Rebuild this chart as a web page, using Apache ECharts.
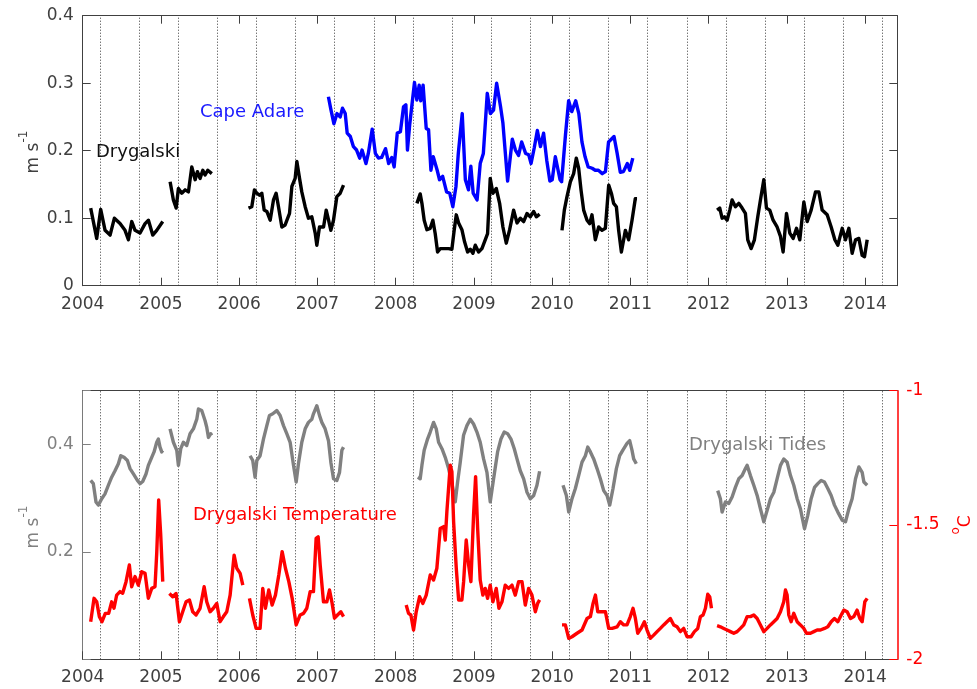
<!DOCTYPE html>
<html>
<head>
<meta charset="utf-8">
<script src="https://cdn.jsdelivr.net/npm/echarts@6/dist/echarts.min.js"></script>
<style>
  html, body { margin: 0; padding: 0; background: #fff; }
  #chart { width: 977px; height: 689px; }
</style>
</head>
<body>
<div id="chart"></div>
<script>
// Current speed at Drygalski (m/s), one array per deployment: [decimal year, value]
const drygalskiSpeed = [
  [[2004.102,0.115],[2004.179,0.070],[2004.230,0.113],[2004.286,0.082],[2004.350,0.075],[2004.405,0.100],[2004.477,0.092],[2004.541,0.082],[2004.584,0.068],[2004.627,0.095],[2004.669,0.082],[2004.733,0.078],[2004.797,0.092],[2004.840,0.097],[2004.895,0.075],[2004.946,0.082],[2005.023,0.095]],
  [[2005.117,0.154],[2005.159,0.127],[2005.194,0.115],[2005.223,0.144],[2005.266,0.137],[2005.309,0.142],[2005.351,0.139],[2005.394,0.176],[2005.437,0.157],[2005.466,0.169],[2005.500,0.159],[2005.535,0.171],[2005.564,0.164],[2005.598,0.171],[2005.650,0.166]],
  [[2006.119,0.115],[2006.161,0.117],[2006.195,0.142],[2006.225,0.137],[2006.259,0.134],[2006.289,0.137],[2006.319,0.112],[2006.353,0.110],[2006.396,0.097],[2006.438,0.127],[2006.472,0.137],[2006.502,0.117],[2006.545,0.087],[2006.587,0.090],[2006.643,0.107],[2006.673,0.147],[2006.715,0.159],[2006.737,0.184],[2006.771,0.159],[2006.800,0.139],[2006.843,0.117],[2006.885,0.100],[2006.928,0.102],[2006.971,0.078],[2006.992,0.060],[2007.026,0.087],[2007.078,0.087],[2007.112,0.112],[2007.142,0.097],[2007.171,0.082],[2007.205,0.097],[2007.248,0.132],[2007.291,0.137],[2007.333,0.149]],
  [[2008.271,0.122],[2008.313,0.136],[2008.335,0.122],[2008.364,0.097],[2008.399,0.083],[2008.441,0.085],[2008.475,0.097],[2008.505,0.077],[2008.535,0.050],[2008.569,0.055],[2008.612,0.055],[2008.676,0.055],[2008.718,0.054],[2008.748,0.083],[2008.774,0.105],[2008.804,0.093],[2008.846,0.083],[2008.880,0.065],[2008.919,0.050],[2008.953,0.054],[2008.987,0.048],[2009.017,0.060],[2009.059,0.050],[2009.102,0.055],[2009.144,0.068],[2009.174,0.077],[2009.208,0.159],[2009.242,0.137],[2009.285,0.144],[2009.328,0.122],[2009.370,0.087],[2009.413,0.063],[2009.456,0.083],[2009.507,0.112],[2009.550,0.093],[2009.592,0.100],[2009.635,0.095],[2009.678,0.107],[2009.720,0.102],[2009.763,0.110],[2009.797,0.102],[2009.839,0.106]],
  [[2010.125,0.082],[2010.155,0.112],[2010.189,0.132],[2010.232,0.154],[2010.274,0.166],[2010.308,0.189],[2010.338,0.174],[2010.368,0.142],[2010.402,0.112],[2010.445,0.097],[2010.479,0.092],[2010.508,0.105],[2010.551,0.068],[2010.594,0.087],[2010.636,0.082],[2010.679,0.085],[2010.722,0.149],[2010.756,0.137],[2010.785,0.122],[2010.820,0.117],[2010.849,0.082],[2010.884,0.050],[2010.935,0.082],[2010.977,0.068],[2011.020,0.097],[2011.062,0.129],[2011.084,0.129]],
  [[2012.107,0.112],[2012.141,0.115],[2012.171,0.100],[2012.201,0.102],[2012.235,0.097],[2012.269,0.112],[2012.299,0.127],[2012.341,0.117],[2012.384,0.122],[2012.427,0.115],[2012.469,0.107],[2012.499,0.068],[2012.542,0.055],[2012.584,0.068],[2012.627,0.102],[2012.661,0.127],[2012.704,0.157],[2012.738,0.115],[2012.780,0.112],[2012.823,0.097],[2012.874,0.087],[2012.917,0.073],[2012.951,0.050],[2012.994,0.107],[2013.036,0.078],[2013.079,0.070],[2013.122,0.085],[2013.164,0.068],[2013.216,0.124],[2013.258,0.095],[2013.309,0.112],[2013.365,0.139],[2013.407,0.139],[2013.450,0.112],[2013.514,0.105],[2013.565,0.087],[2013.612,0.068],[2013.650,0.060],[2013.706,0.085],[2013.748,0.068],[2013.791,0.085],[2013.833,0.048],[2013.876,0.068],[2013.919,0.070],[2013.961,0.045],[2013.991,0.043],[2014.025,0.068]]
];

// Current speed at Cape Adare (m/s)
const capeAdareSpeed = [
  [[2007.140,0.280],[2007.170,0.262],[2007.210,0.240],[2007.250,0.255],[2007.290,0.250],[2007.320,0.263],[2007.355,0.255],[2007.380,0.226],[2007.420,0.221],[2007.460,0.206],[2007.500,0.201],[2007.540,0.189],[2007.570,0.201],[2007.620,0.181],[2007.650,0.196],[2007.700,0.232],[2007.740,0.196],[2007.780,0.189],[2007.820,0.190],[2007.870,0.203],[2007.910,0.181],[2007.950,0.190],[2007.980,0.176],[2008.020,0.226],[2008.060,0.228],[2008.100,0.265],[2008.130,0.268],[2008.150,0.201],[2008.180,0.240],[2008.240,0.301],[2008.270,0.275],[2008.300,0.297],[2008.320,0.274],[2008.350,0.297],[2008.390,0.233],[2008.420,0.231],[2008.450,0.171],[2008.480,0.191],[2008.530,0.171],[2008.560,0.157],[2008.600,0.162],[2008.650,0.139],[2008.690,0.137],[2008.730,0.117],[2008.770,0.147],[2008.800,0.196],[2008.850,0.255],[2008.890,0.157],[2008.930,0.142],[2008.960,0.177],[2008.990,0.137],[2009.040,0.127],[2009.080,0.181],[2009.120,0.196],[2009.170,0.285],[2009.210,0.255],[2009.250,0.260],[2009.290,0.300],[2009.340,0.265],[2009.370,0.241],[2009.430,0.155],[2009.490,0.217],[2009.530,0.201],[2009.570,0.193],[2009.610,0.213],[2009.660,0.196],[2009.700,0.194],[2009.730,0.181],[2009.770,0.204],[2009.810,0.230],[2009.850,0.206],[2009.890,0.226],[2009.930,0.186],[2009.970,0.155],[2010.000,0.157],[2010.040,0.191],[2010.100,0.157],[2010.120,0.154],[2010.170,0.224],[2010.210,0.274],[2010.250,0.258],[2010.300,0.274],[2010.340,0.255],[2010.380,0.213],[2010.420,0.191],[2010.460,0.176],[2010.510,0.174],[2010.550,0.171],[2010.590,0.171],[2010.640,0.166],[2010.680,0.169],[2010.720,0.213],[2010.790,0.221],[2010.830,0.196],[2010.870,0.168],[2010.910,0.169],[2010.960,0.181],[2010.990,0.171],[2011.030,0.189]]
];

// Tidal current speed at Drygalski (m/s)
const drygalskiTides = [
  [[2004.102,0.333],[2004.136,0.327],[2004.170,0.293],[2004.200,0.287],[2004.243,0.299],[2004.285,0.308],[2004.328,0.324],[2004.370,0.339],[2004.413,0.351],[2004.456,0.364],[2004.486,0.379],[2004.528,0.376],[2004.571,0.370],[2004.605,0.355],[2004.648,0.345],[2004.699,0.333],[2004.733,0.327],[2004.767,0.331],[2004.809,0.345],[2004.839,0.361],[2004.882,0.376],[2004.912,0.386],[2004.946,0.404],[2004.967,0.410],[2004.988,0.395],[2005.010,0.386],[2005.023,0.389]],
  [[2005.116,0.429],[2005.159,0.404],[2005.202,0.389],[2005.223,0.361],[2005.253,0.392],[2005.287,0.404],[2005.329,0.398],[2005.372,0.420],[2005.415,0.429],[2005.458,0.447],[2005.479,0.466],[2005.521,0.463],[2005.564,0.444],[2005.585,0.432],[2005.607,0.413],[2005.636,0.420],[2005.649,0.417]],
  [[2006.139,0.379],[2006.173,0.370],[2006.203,0.339],[2006.225,0.370],[2006.267,0.379],[2006.310,0.410],[2006.353,0.435],[2006.387,0.454],[2006.429,0.457],[2006.480,0.463],[2006.523,0.454],[2006.566,0.435],[2006.608,0.420],[2006.651,0.404],[2006.694,0.361],[2006.728,0.330],[2006.757,0.364],[2006.800,0.404],[2006.843,0.429],[2006.885,0.441],[2006.928,0.447],[2006.949,0.457],[2006.992,0.472],[2007.026,0.454],[2007.056,0.441],[2007.098,0.429],[2007.141,0.407],[2007.171,0.367],[2007.205,0.336],[2007.248,0.333],[2007.282,0.348],[2007.312,0.389],[2007.333,0.395]],
  [[2008.283,0.339],[2008.313,0.336],[2008.335,0.361],[2008.364,0.389],[2008.407,0.410],[2008.441,0.423],[2008.484,0.441],[2008.518,0.429],[2008.548,0.404],[2008.591,0.392],[2008.633,0.376],[2008.676,0.355],[2008.718,0.327],[2008.761,0.293],[2008.791,0.330],[2008.825,0.367],[2008.867,0.417],[2008.910,0.435],[2008.953,0.447],[2008.995,0.438],[2009.038,0.423],[2009.080,0.404],[2009.123,0.373],[2009.166,0.348],[2009.208,0.293],[2009.251,0.336],[2009.302,0.386],[2009.345,0.410],[2009.387,0.423],[2009.430,0.420],[2009.473,0.410],[2009.515,0.392],[2009.550,0.373],[2009.592,0.351],[2009.635,0.336],[2009.678,0.311],[2009.720,0.299],[2009.763,0.305],[2009.805,0.324],[2009.839,0.350]],
  [[2010.138,0.324],[2010.181,0.305],[2010.211,0.274],[2010.253,0.299],[2010.296,0.318],[2010.338,0.342],[2010.381,0.367],[2010.424,0.379],[2010.454,0.395],[2010.488,0.386],[2010.530,0.373],[2010.573,0.355],[2010.615,0.336],[2010.658,0.314],[2010.701,0.305],[2010.735,0.287],[2010.777,0.318],[2010.820,0.355],[2010.862,0.379],[2010.905,0.390],[2010.956,0.402],[2010.990,0.407],[2011.020,0.389],[2011.041,0.373],[2011.075,0.364]],
  [[2012.115,0.314],[2012.149,0.299],[2012.171,0.274],[2012.213,0.293],[2012.256,0.290],[2012.299,0.302],[2012.341,0.320],[2012.384,0.336],[2012.427,0.342],[2012.469,0.355],[2012.491,0.361],[2012.533,0.342],[2012.576,0.324],[2012.619,0.305],[2012.661,0.280],[2012.704,0.256],[2012.746,0.277],[2012.789,0.299],[2012.832,0.311],[2012.874,0.336],[2012.917,0.361],[2012.959,0.373],[2013.002,0.367],[2013.045,0.342],[2013.087,0.324],[2013.130,0.299],[2013.172,0.280],[2013.224,0.243],[2013.266,0.268],[2013.309,0.299],[2013.352,0.320],[2013.394,0.327],[2013.437,0.333],[2013.479,0.330],[2013.522,0.318],[2013.565,0.305],[2013.607,0.287],[2013.650,0.274],[2013.706,0.259],[2013.748,0.256],[2013.791,0.280],[2013.833,0.299],[2013.876,0.336],[2013.919,0.358],[2013.961,0.348],[2013.983,0.330],[2014.025,0.324]]
];

// Water temperature at Drygalski (deg C)
const drygalskiTemperature = [
  [[2004.102,-1.860],[2004.145,-1.773],[2004.179,-1.786],[2004.213,-1.841],[2004.247,-1.860],[2004.289,-1.829],[2004.332,-1.829],[2004.370,-1.786],[2004.400,-1.810],[2004.434,-1.761],[2004.477,-1.748],[2004.511,-1.754],[2004.554,-1.711],[2004.596,-1.649],[2004.626,-1.730],[2004.669,-1.692],[2004.711,-1.724],[2004.754,-1.674],[2004.797,-1.680],[2004.839,-1.773],[2004.882,-1.736],[2004.924,-1.730],[2004.946,-1.605],[2004.971,-1.407],[2004.997,-1.537],[2005.023,-1.711]],
  [[2005.108,-1.755],[2005.150,-1.767],[2005.193,-1.755],[2005.236,-1.860],[2005.278,-1.823],[2005.321,-1.786],[2005.364,-1.779],[2005.406,-1.823],[2005.449,-1.835],[2005.500,-1.810],[2005.552,-1.730],[2005.585,-1.786],[2005.628,-1.823],[2005.670,-1.810],[2005.713,-1.792],[2005.756,-1.860],[2005.798,-1.841],[2005.841,-1.823],[2005.884,-1.761],[2005.935,-1.612],[2005.969,-1.661],[2006.012,-1.680],[2006.046,-1.724]],
  [[2006.131,-1.773],[2006.173,-1.835],[2006.216,-1.885],[2006.267,-1.885],[2006.301,-1.736],[2006.335,-1.810],[2006.378,-1.742],[2006.421,-1.798],[2006.463,-1.761],[2006.506,-1.686],[2006.549,-1.599],[2006.591,-1.661],[2006.634,-1.711],[2006.677,-1.773],[2006.728,-1.872],[2006.779,-1.835],[2006.822,-1.829],[2006.864,-1.810],[2006.907,-1.748],[2006.949,-1.748],[2006.983,-1.550],[2007.009,-1.544],[2007.035,-1.649],[2007.077,-1.786],[2007.120,-1.786],[2007.154,-1.742],[2007.184,-1.786],[2007.218,-1.847],[2007.256,-1.835],[2007.299,-1.823],[2007.333,-1.841]],
  [[2008.134,-1.798],[2008.164,-1.829],[2008.194,-1.835],[2008.228,-1.891],[2008.262,-1.823],[2008.305,-1.767],[2008.347,-1.792],[2008.390,-1.761],[2008.441,-1.686],[2008.484,-1.705],[2008.526,-1.661],[2008.569,-1.513],[2008.612,-1.506],[2008.633,-1.556],[2008.654,-1.450],[2008.697,-1.277],[2008.718,-1.301],[2008.740,-1.488],[2008.774,-1.661],[2008.804,-1.779],[2008.846,-1.779],[2008.868,-1.711],[2008.901,-1.556],[2008.932,-1.649],[2008.961,-1.711],[2008.995,-1.463],[2009.021,-1.320],[2009.047,-1.513],[2009.080,-1.705],[2009.114,-1.761],[2009.144,-1.736],[2009.174,-1.773],[2009.208,-1.724],[2009.242,-1.786],[2009.285,-1.736],[2009.319,-1.810],[2009.358,-1.786],[2009.400,-1.724],[2009.443,-1.736],[2009.486,-1.724],[2009.528,-1.761],[2009.571,-1.711],[2009.614,-1.711],[2009.656,-1.798],[2009.699,-1.736],[2009.741,-1.761],[2009.784,-1.823],[2009.814,-1.792],[2009.839,-1.779]],
  [[2010.125,-1.872],[2010.168,-1.872],[2010.211,-1.922],[2010.253,-1.916],[2010.317,-1.903],[2010.381,-1.891],[2010.445,-1.848],[2010.488,-1.841],[2010.522,-1.792],[2010.552,-1.761],[2010.582,-1.823],[2010.637,-1.823],[2010.680,-1.823],[2010.722,-1.885],[2010.765,-1.885],[2010.829,-1.879],[2010.871,-1.860],[2010.914,-1.872],[2010.956,-1.872],[2010.998,-1.841],[2011.033,-1.810],[2011.063,-1.848],[2011.093,-1.903],[2011.135,-1.885],[2011.178,-1.860],[2011.212,-1.891],[2011.254,-1.922],[2011.297,-1.910],[2011.340,-1.897],[2011.382,-1.885],[2011.425,-1.872],[2011.467,-1.860],[2011.510,-1.848],[2011.553,-1.872],[2011.595,-1.879],[2011.638,-1.897],[2011.680,-1.885],[2011.723,-1.916],[2011.774,-1.916],[2011.817,-1.897],[2011.860,-1.885],[2011.894,-1.841],[2011.928,-1.835],[2011.958,-1.810],[2011.988,-1.758],[2012.013,-1.767],[2012.035,-1.810]],
  [[2012.107,-1.875],[2012.149,-1.879],[2012.192,-1.885],[2012.235,-1.891],[2012.277,-1.897],[2012.320,-1.903],[2012.363,-1.897],[2012.405,-1.885],[2012.448,-1.872],[2012.491,-1.841],[2012.533,-1.841],[2012.576,-1.835],[2012.619,-1.848],[2012.661,-1.872],[2012.704,-1.897],[2012.746,-1.885],[2012.789,-1.872],[2012.832,-1.860],[2012.874,-1.848],[2012.917,-1.823],[2012.959,-1.786],[2012.981,-1.742],[2013.002,-1.761],[2013.023,-1.835],[2013.053,-1.860],[2013.087,-1.829],[2013.130,-1.860],[2013.172,-1.872],[2013.215,-1.885],[2013.249,-1.903],[2013.300,-1.903],[2013.343,-1.897],[2013.386,-1.891],[2013.428,-1.891],[2013.479,-1.885],[2013.522,-1.879],[2013.565,-1.860],[2013.607,-1.848],[2013.650,-1.860],[2013.693,-1.835],[2013.727,-1.817],[2013.769,-1.823],[2013.812,-1.848],[2013.855,-1.841],[2013.897,-1.817],[2013.931,-1.848],[2013.961,-1.860],[2013.995,-1.786],[2014.025,-1.773]]
];

// March and September equinoxes (decimal year)
const equinoxes = [2004.22, 2004.72, 2005.22, 2005.72, 2006.22, 2006.72, 2007.22, 2007.72,
  2008.22, 2008.72, 2009.22, 2009.72, 2010.22, 2010.72, 2011.22, 2011.72,
  2012.22, 2012.72, 2013.22, 2013.72, 2014.22];

const xRange = [2004, 2014.41];
const speedTopRange = [0, 0.4];
const speedBottomRange = [0, 0.5];
const tempRange = [-2, -1];

const FONT = 'DejaVu Sans, Verdana, sans-serif';
const AXIS_DARK = '#404040';
const TIDE_GRAY = '#808080';
const RED = '#ff0000';
const BLUE = '#0000ff';

const chart = echarts.init(document.getElementById('chart'), null, { renderer: 'canvas' });

const yearLabel = v => (Math.abs(v - Math.round(v)) < 1e-6 ? String(Math.round(v)) : '');

function xAxisDef(gridIndex, position, opts) {
  return Object.assign({
    type: 'value', gridIndex, position,
    min: xRange[0], max: xRange[1], interval: 1,
    axisLine: { show: true, onZero: false, lineStyle: { color: AXIS_DARK, width: 1 } },
    axisTick: { show: true, inside: true, length: 8, lineStyle: { color: AXIS_DARK } },
    axisLabel: { show: false },
    splitLine: { show: false }
  }, opts || {});
}

function equinoxMarks() {
  return {
    silent: true,
    symbol: ['none', 'none'],
    z: 1,
    label: { show: false },
    lineStyle: { type: [1, 2], color: '#3a3a3a', width: 1 },
    emphasis: { disabled: true },
    data: equinoxes.map(x => ({ xAxis: x }))
  };
}

function lineSeries(name, segs, xIdx, yIdx, color, withMarks) {
  return segs.map((seg, i) => {
    const s = {
      name, type: 'line', xAxisIndex: xIdx, yAxisIndex: yIdx,
      data: seg, showSymbol: false, symbol: 'none', smooth: false,
      lineStyle: { color, width: 3.4, join: 'round' },
      silent: true, animation: false, z: 3
    };
    if (withMarks && i === 0) s.markLine = equinoxMarks();
    return s;
  });
}

const option = {
  animation: false,
  backgroundColor: '#ffffff',
  textStyle: { fontFamily: FONT },
  grid: [
    { left: 82.7, right: 79.7, top: 15.7, height: 270, containLabel: false },
    { left: 82.7, right: 79.7, top: 390.7, height: 268.6, containLabel: false }
  ],
  xAxis: [
    xAxisDef(0, 'bottom', {
      axisLabel: { show: true, color: AXIS_DARK, fontSize: 17, fontFamily: FONT, margin: 10, formatter: yearLabel, showMaxLabel: false }
    }),
    xAxisDef(0, 'top'),
    xAxisDef(1, 'bottom', {
      axisLabel: { show: true, color: AXIS_DARK, fontSize: 17, fontFamily: FONT, margin: 10, formatter: yearLabel, showMaxLabel: false }
    }),
    xAxisDef(1, 'top', { axisTick: { show: false } })
  ],
  yAxis: [
    {
      type: 'value', gridIndex: 0, position: 'left',
      min: speedTopRange[0], max: speedTopRange[1], interval: 0.1,
      axisLine: { show: true, onZero: false, lineStyle: { color: AXIS_DARK } },
      axisTick: { show: true, inside: true, length: 8, lineStyle: { color: AXIS_DARK } },
      axisLabel: { color: AXIS_DARK, fontSize: 17, fontFamily: FONT, margin: 9,
        formatter: v => (v === 0 ? '0' : v.toFixed(1)) },
      splitLine: { show: false }
    },
    {
      type: 'value', gridIndex: 0, position: 'right',
      min: speedTopRange[0], max: speedTopRange[1], interval: 0.1,
      axisLine: { show: true, onZero: false, lineStyle: { color: AXIS_DARK } },
      axisTick: { show: true, inside: true, length: 8, lineStyle: { color: AXIS_DARK } },
      axisLabel: { show: false },
      splitLine: { show: false }
    },
    {
      type: 'value', gridIndex: 1, position: 'left',
      min: speedBottomRange[0], max: speedBottomRange[1], interval: 0.2,
      axisLine: { show: true, onZero: false, lineStyle: { color: '#7a7a7a' } },
      axisTick: { show: true, inside: true, length: 8, lineStyle: { color: TIDE_GRAY } },
      axisLabel: { color: TIDE_GRAY, fontSize: 17, fontFamily: FONT, margin: 9,
        formatter: v => (Math.abs(v - 0.2) < 1e-6 || Math.abs(v - 0.4) < 1e-6 ? v.toFixed(1) : '') },
      splitLine: { show: false }
    },
    {
      type: 'value', gridIndex: 1, position: 'right',
      min: tempRange[0], max: tempRange[1], interval: 0.5,
      axisLine: { show: true, onZero: false, lineStyle: { color: RED, width: 1.5 } },
      axisTick: { show: true, inside: true, length: 8, lineStyle: { color: RED } },
      axisLabel: { color: RED, fontSize: 17, fontFamily: FONT, margin: 9,
        formatter: v => String(v) },
      splitLine: { show: false }
    }
  ],
  series: [
    ...lineSeries('Drygalski', drygalskiSpeed, 0, 0, '#000000', true),
    ...lineSeries('Cape Adare', capeAdareSpeed, 0, 0, BLUE, false),
    ...lineSeries('Drygalski Tides', drygalskiTides, 2, 2, TIDE_GRAY, true),
    ...lineSeries('Drygalski Temperature', drygalskiTemperature, 2, 3, RED, false)
  ],
  graphic: [
    { type: 'text', x: 96, y: 152, silent: true, z: 10,
      style: { text: 'Drygalski', fill: '#111111', font: '18px ' + FONT, textAlign: 'left', textVerticalAlign: 'middle' } },
    { type: 'text', x: 200, y: 112, silent: true, z: 10,
      style: { text: 'Cape Adare', fill: '#1a1aff', font: '18px ' + FONT, textAlign: 'left', textVerticalAlign: 'middle' } },
    { type: 'text', x: 193, y: 515, silent: true, z: 10,
      style: { text: 'Drygalski Temperature', fill: RED, font: '18px ' + FONT, textAlign: 'left', textVerticalAlign: 'middle' } },
    { type: 'text', x: 689, y: 445, silent: true, z: 10,
      style: { text: 'Drygalski Tides', fill: TIDE_GRAY, font: '18px ' + FONT, textAlign: 'left', textVerticalAlign: 'middle' } },
    { type: 'text', x: 30, y: 152, rotation: Math.PI / 2, silent: true,
      style: { text: '{a|m s}{b|-1}', align: 'center', verticalAlign: 'middle',
        rich: { a: { fontSize: 17, fontFamily: FONT, fill: AXIS_DARK, lineHeight: 24, verticalAlign: 'bottom' },
                b: { fontSize: 12, fontFamily: FONT, fill: AXIS_DARK, lineHeight: 24, verticalAlign: 'top' } } } },
    { type: 'text', x: 30, y: 527, rotation: Math.PI / 2, silent: true,
      style: { text: '{a|m s}{b|-1}', align: 'center', verticalAlign: 'middle',
        rich: { a: { fontSize: 17, fontFamily: FONT, fill: TIDE_GRAY, lineHeight: 24, verticalAlign: 'bottom' },
                b: { fontSize: 12, fontFamily: FONT, fill: TIDE_GRAY, lineHeight: 24, verticalAlign: 'top' } } } },
    { type: 'text', x: 962, y: 525, rotation: Math.PI / 2, silent: true,
      style: { text: '{b|o}{a|C}', align: 'center', verticalAlign: 'middle',
        rich: { a: { fontSize: 17, fontFamily: FONT, fill: RED, lineHeight: 24, verticalAlign: 'bottom' },
                b: { fontSize: 12, fontFamily: FONT, fill: RED, lineHeight: 24, verticalAlign: 'top' } } } }
  ]
};

chart.setOption(option);
</script>
</body>
</html>
